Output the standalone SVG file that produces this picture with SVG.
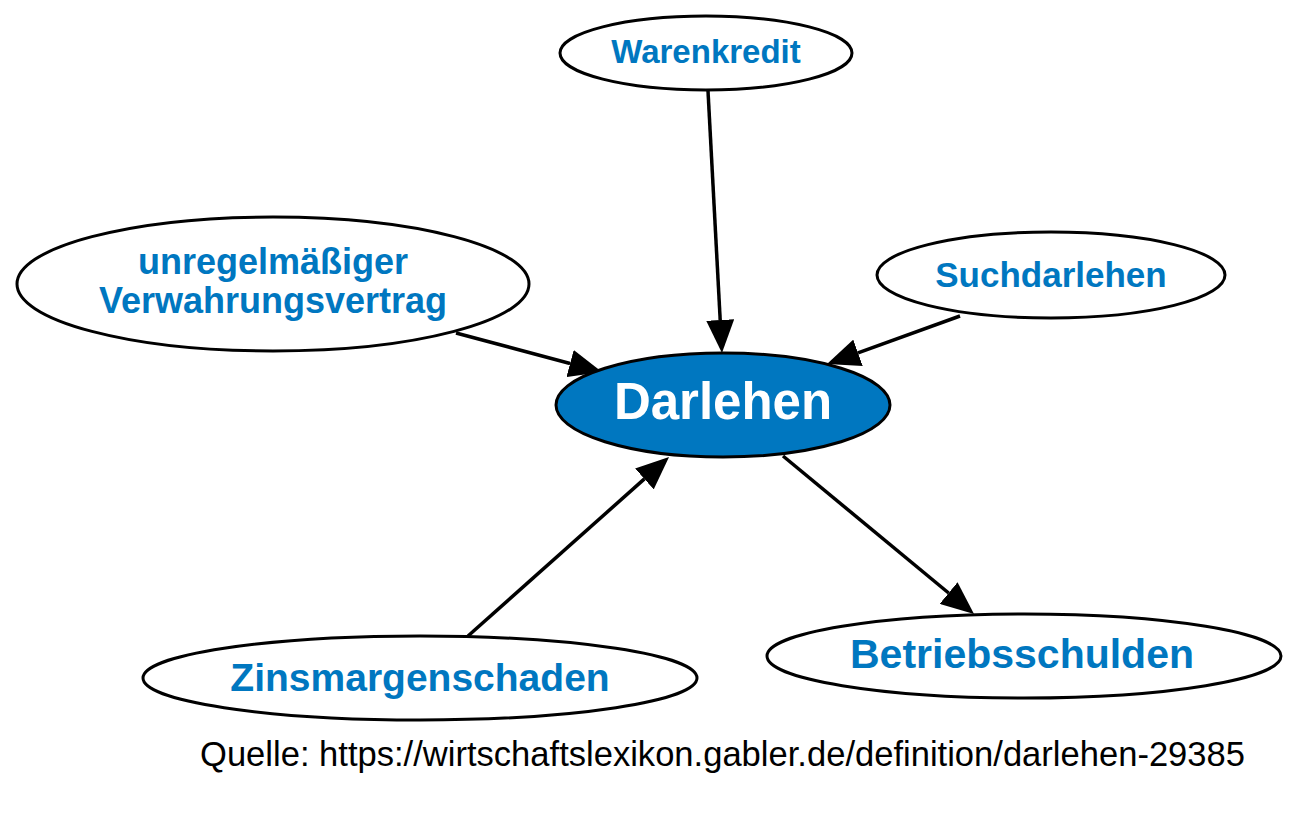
<svg xmlns="http://www.w3.org/2000/svg" width="1300" height="814" viewBox="0 0 1300 814">
<style>
.n{fill:#fff;stroke:#000;stroke-width:3}
.c{fill:#0077c0;stroke:#000;stroke-width:3}
.t{font-family:"Liberation Sans",Arial,sans-serif;font-weight:bold;fill:#0077c0;text-anchor:middle}
.e{fill:none;stroke:#000;stroke-width:3.5}
.src{font-family:"Liberation Sans",Arial,sans-serif;fill:#000}
</style>
<defs>
<marker id="ah" markerUnits="userSpaceOnUse" markerWidth="34" markerHeight="28" refX="0" refY="14" orient="auto" viewBox="0 0 34 28">
<path d="M0,0 L33,14 L0,28 z" fill="#000"/>
</marker>
</defs>
<rect width="1300" height="814" fill="#fff"/>
<g id="connectors">
<path class="e" d="M708,91 L720.2,320" marker-end="url(#ah)"/>
<path class="e" d="M456,333 L570.1,363.5" marker-end="url(#ah)"/>
<path class="e" d="M960,316 L858,352.8" marker-end="url(#ah)"/>
<path class="e" d="M468,636 L644.4,478.9" marker-end="url(#ah)"/>
<path class="e" d="M783,456 L948.6,593" marker-end="url(#ah)"/>
</g>
<g id="darlehen">
<ellipse class="c" cx="723" cy="405" rx="167" ry="52"/>
<text class="t" x="723" y="419" font-size="51" style="fill:#fff">Darlehen</text>
</g>
<g id="warenkredit">
<ellipse class="n" cx="706" cy="53" rx="146" ry="37"/>
<text class="t" x="706" y="63" font-size="33">Warenkredit</text>
</g>
<g id="unregelmaessiger">
<ellipse class="n" cx="273" cy="284" rx="256" ry="67"/>
<text class="t" x="273" y="274" font-size="36">unregelmäßiger</text>
<text class="t" x="273" y="313" font-size="36">Verwahrungsvertrag</text>
</g>
<g id="suchdarlehen">
<ellipse class="n" cx="1051" cy="275" rx="174" ry="43"/>
<text class="t" x="1051" y="287" font-size="35">Suchdarlehen</text>
</g>
<g id="zinsmargenschaden">
<ellipse class="n" cx="420" cy="678" rx="277" ry="42"/>
<text class="t" x="420" y="691" font-size="39">Zinsmargenschaden</text>
</g>
<g id="betriebsschulden">
<ellipse class="n" cx="1024" cy="656" rx="257" ry="42"/>
<text class="t" x="1022" y="668" font-size="41">Betriebsschulden</text>
</g>
<text class="src" x="200" y="766" font-size="34.6" textLength="1045" lengthAdjust="spacingAndGlyphs">Quelle: https://wirtschaftslexikon.gabler.de/definition/darlehen-29385</text>
</svg>
